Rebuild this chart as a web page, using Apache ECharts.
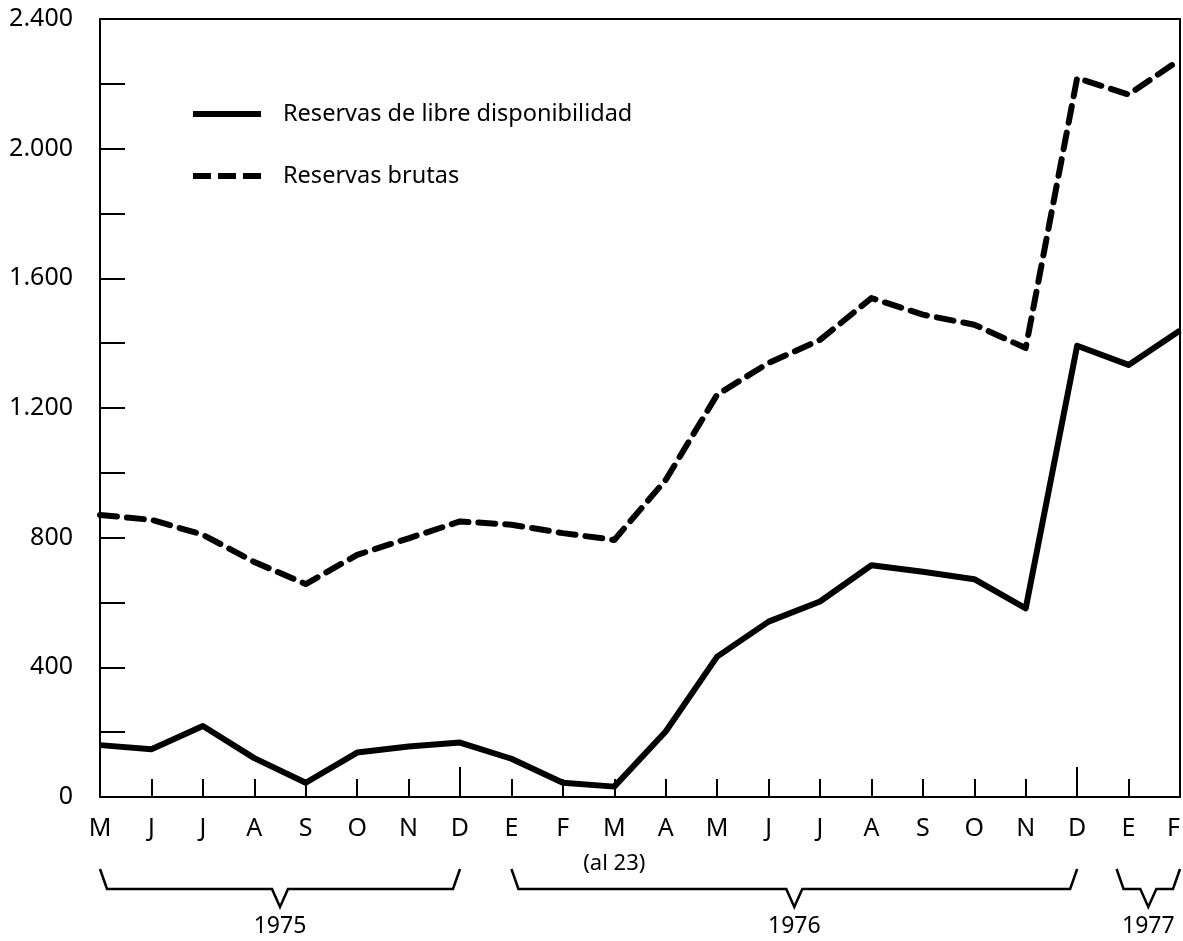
<!DOCTYPE html>
<html>
<head>
<meta charset="utf-8">
<script src="https://cdn.jsdelivr.net/npm/echarts@6/dist/echarts.min.js"></script>
<style>
html,body{margin:0;padding:0;background:#fff;}
#chart{width:1183px;height:941px;}
</style>
</head>
<body>
<div id="chart"></div>
<script>
const months = ['M','J','J','A','S','O','N','D','E','F','M','A','M','J','J','A','S','O','N','D','E','F'];
const monthNotes = {10: '(al 23)'};
const libreDisponibilidad = [160,147,219,120,44,137,156,168,118,44,32,202,433,541,603,715,695,672,582,1392,1333,1439];
const reservasBrutas = [870,855,809,725,657,747,798,850,840,814,793,978,1241,1339,1410,1539,1488,1457,1385,2218,2167,2275];
const years = [
  {label:'1975', from:0, to:7},
  {label:'1976', from:8, to:19},
  {label:'1977', from:20, to:21}
];
const yTicks = {min:0, max:2400, step:200, labelStep:400};
const seriesNames = ['Reservas de libre disponibilidad','Reservas brutas'];

const FONT = 'Noto Sans';
const chart = echarts.init(document.getElementById('chart'), null, {renderer:'canvas'});

function fmtThousands(v){
  return String(v).replace(/\B(?=(\d{3})+(?!\d))/g, '.');
}

const option = {
  backgroundColor:'#fff',
  animation:false,
  grid:{left:100, right:3, top:19, bottom:144, show:true, borderColor:'#000', borderWidth:2,
        backgroundColor:'transparent', outerBoundsMode:'none', containLabel:false},
  legend:{
    orient:'vertical', left:193, top:102, padding:0, itemWidth:68, itemHeight:6, itemGap:38,
    selectedMode:false,
    textStyle:{fontFamily:FONT, fontSize:23.5, lineHeight:24, color:'#000', padding:[0,0,0,17]},
    data:[
      {name:seriesNames[0], icon:'rect', itemStyle:{color:'#000'}},
      {name:seriesNames[1], icon:'path://M0,0h18v6h-18z M25,0h18v6h-18z M50,0h18v6h-18z', itemStyle:{color:'#000'}}
    ]
  },
  xAxis:[{
    type:'category', data:months, boundaryGap:false,
    axisLine:{lineStyle:{color:'#000', width:2}},
    axisTick:{inside:true, length:18, lineStyle:{color:'#000', width:2}, interval:0},
    axisLabel:{interval:0, margin:14, fontFamily:FONT, fontSize:25, color:'#000', lineHeight:35,
      alignMaxLabel:'right',
      formatter:(v,i)=> monthNotes[i] ? v + '\n{n|' + monthNotes[i] + '}' : v,
      rich:{n:{fontFamily:FONT, fontSize:22, color:'#000', lineHeight:35}}},
    splitLine:{show:false}
  },{
    type:'category', data:months, boundaryGap:false, position:'bottom',
    axisLine:{show:false},
    axisTick:{inside:true, length:30, lineStyle:{color:'#000', width:2}, interval:(i)=> i===7 || i===19},
    axisLabel:{show:false},
    splitLine:{show:false}
  }],
  yAxis:{
    type:'value', min:yTicks.min, max:yTicks.max, interval:yTicks.step,
    axisLine:{show:true, lineStyle:{color:'#000', width:2}},
    axisTick:{show:true, inside:true, length:25, lineStyle:{color:'#000', width:2}},
    axisLabel:{margin:27, fontFamily:FONT, fontSize:25, color:'#000',
      formatter:(v)=> v % yTicks.labelStep === 0 ? fmtThousands(v) : ''},
    splitLine:{show:false}
  },
  series:[
    {name:seriesNames[0], type:'line', data:libreDisponibilidad, showSymbol:false, symbol:'none',
     lineStyle:{color:'#000', width:6, type:'solid', join:'round'}, itemStyle:{color:'#000'}, z:3},
    {name:seriesNames[1], type:'line', data:reservasBrutas, showSymbol:false, symbol:'none',
     lineStyle:{color:'#000', width:6, type:[17,10], cap:'round', join:'round'}, itemStyle:{color:'#000'}, z:3}
  ]
};
chart.setOption(option);

// Year braces positioned through the category axis scale
const graphics = [];
years.forEach(y=>{
  const xf = chart.convertToPixel({xAxisIndex:0}, y.from);
  const xt = chart.convertToPixel({xAxisIndex:0}, y.to);
  const xl = xf - 12 * (y.to - y.from < 3 ? 1 : 0) ;
  const xr = xt;
  const xm = (xl + xr) / 2;
  graphics.push({
    type:'polyline',
    shape:{points:[[xl,869],[xl+7,889],[xm-8,889],[xm,907],[xm+8,889],[xr-7,889],[xr,869]]},
    style:{stroke:'#000', lineWidth:2.5, fill:null}
  });
  graphics.push({
    type:'text', x:xm, y:926,
    style:{text:y.label, fontFamily:FONT, fontSize:23, fill:'#000', align:'center', verticalAlign:'middle'}
  });
});
chart.setOption({graphic:graphics});
</script>
</body>
</html>
